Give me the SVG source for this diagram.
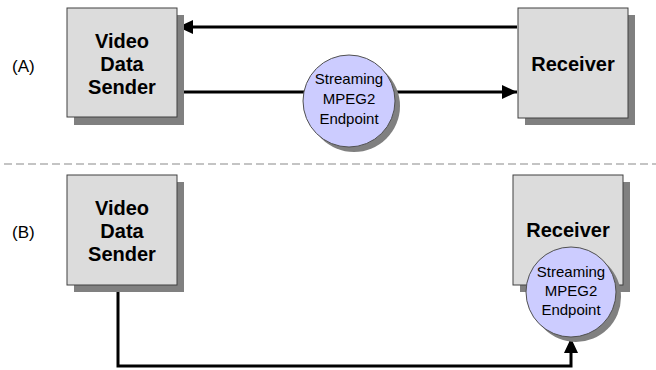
<svg xmlns="http://www.w3.org/2000/svg" width="656" height="370" viewBox="0 0 656 370">
<defs>
<marker id="arrow" markerUnits="userSpaceOnUse" markerWidth="16" markerHeight="14" refX="15" refY="7" orient="auto">
<path d="M0,0 L15,7 L0,14 Z" fill="#000"/>
</marker>
</defs>
<style>
.box{fill:#dcdcdc;stroke:#404040;stroke-width:1}
.shadow{fill:#808080}
.circ{fill:#ccccff;stroke:#505050;stroke-width:1}
.big{font-family:"Liberation Sans",Arial,sans-serif;font-weight:bold;font-size:20px;fill:#000;text-anchor:middle}
.small{font-family:"Liberation Sans",Arial,sans-serif;font-size:15px;fill:#000;text-anchor:middle}
.lab{font-family:"Liberation Sans",Arial,sans-serif;font-size:17px;fill:#000}
.conn{stroke:#000;stroke-width:3;fill:none}
</style>
<rect width="656" height="370" fill="#fff"/>
<line x1="4" y1="164" x2="656" y2="164" stroke="#c4c4c4" stroke-width="2" stroke-dasharray="8,4"/>
<text class="lab" x="12" y="72">(A)</text>
<text class="lab" x="12" y="238">(B)</text>
<g id="connectors">
<line class="conn" x1="517" y1="27" x2="178" y2="27" marker-end="url(#arrow)"/>
<line class="conn" x1="177" y1="92" x2="517" y2="92" marker-end="url(#arrow)"/>
<polyline class="conn" points="118,285 118,366 571,366 571,338" marker-end="url(#arrow)"/>
</g>
<g id="senderA">
<rect class="shadow" x="74" y="15" width="110" height="110"/>
<rect class="box" x="67" y="8" width="110" height="109"/>
<text class="big" x="122" y="48">Video</text>
<text class="big" x="122" y="71">Data</text>
<text class="big" x="122" y="94">Sender</text>
</g>
<g id="receiverA">
<rect class="shadow" x="525" y="15" width="110" height="110"/>
<rect class="box" x="518" y="8" width="110" height="110"/>
<text class="big" x="573" y="71">Receiver</text>
</g>
<g id="endpointA">
<circle class="shadow" cx="354" cy="106" r="46"/>
<circle class="circ" cx="349" cy="101" r="46"/>
<text class="small" x="349" y="84">Streaming</text>
<text class="small" x="349" y="104">MPEG2</text>
<text class="small" x="349" y="124">Endpoint</text>
</g>
<g id="senderB">
<rect class="shadow" x="74" y="182" width="110" height="110"/>
<rect class="box" x="67" y="175" width="110" height="110"/>
<text class="big" x="122" y="215">Video</text>
<text class="big" x="122" y="238">Data</text>
<text class="big" x="122" y="261">Sender</text>
</g>
<g id="receiverB">
<rect class="shadow" x="520" y="182" width="110" height="110"/>
<rect class="box" x="513" y="175" width="110" height="110"/>
<text class="big" x="568" y="237">Receiver</text>
</g>
<g id="endpointB">
<circle class="shadow" cx="576" cy="297" r="45"/>
<circle class="circ" cx="571" cy="292" r="45"/>
<text class="small" x="571" y="277">Streaming</text>
<text class="small" x="571" y="296">MPEG2</text>
<text class="small" x="571" y="315">Endpoint</text>
</g>
</svg>
